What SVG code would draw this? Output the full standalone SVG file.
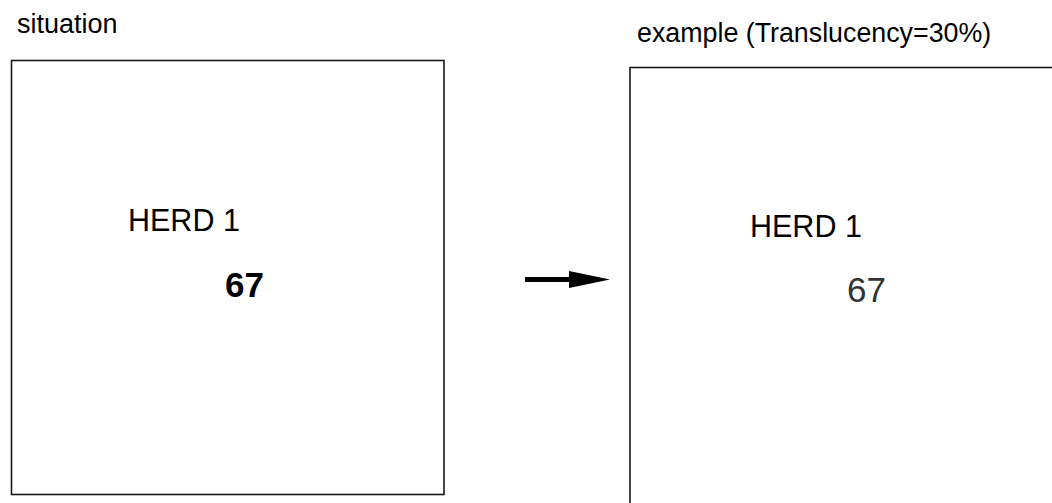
<svg xmlns="http://www.w3.org/2000/svg" width="1052" height="503" viewBox="0 0 1052 503">
<style>
.box{fill:#fff;stroke:#1a1a1a;stroke-width:1.6}
.t{font-family:"Liberation Sans",Arial,sans-serif;fill:#000}
</style>
<rect width="1052" height="503" fill="#fff"/>
<text class="t" x="17" y="33" font-size="27">situation</text>
<text class="t" x="637" y="42" font-size="26.8">example (Translucency=30%)</text>
<g id="situation">
<rect class="box" x="11.5" y="60.5" width="432.5" height="434"/>
<text class="t" x="128" y="231" font-size="30.5">HERD 1</text>
<text class="t" x="225" y="297" font-size="35" font-weight="bold">67</text>
</g>
<g id="example">
<rect class="box" x="630" y="67.5" width="440" height="460"/>
<text class="t" x="750" y="237" font-size="30.5">HERD 1</text>
<text class="t" x="847" y="302" font-size="35" style="fill:#333">67</text>
</g>
<g id="connectors">
<line x1="525" y1="279.5" x2="572" y2="279.5" stroke="#000" stroke-width="5"/>
<path d="M569,271 L610,279.5 L569,288 Z" fill="#000"/>
</g>
</svg>
